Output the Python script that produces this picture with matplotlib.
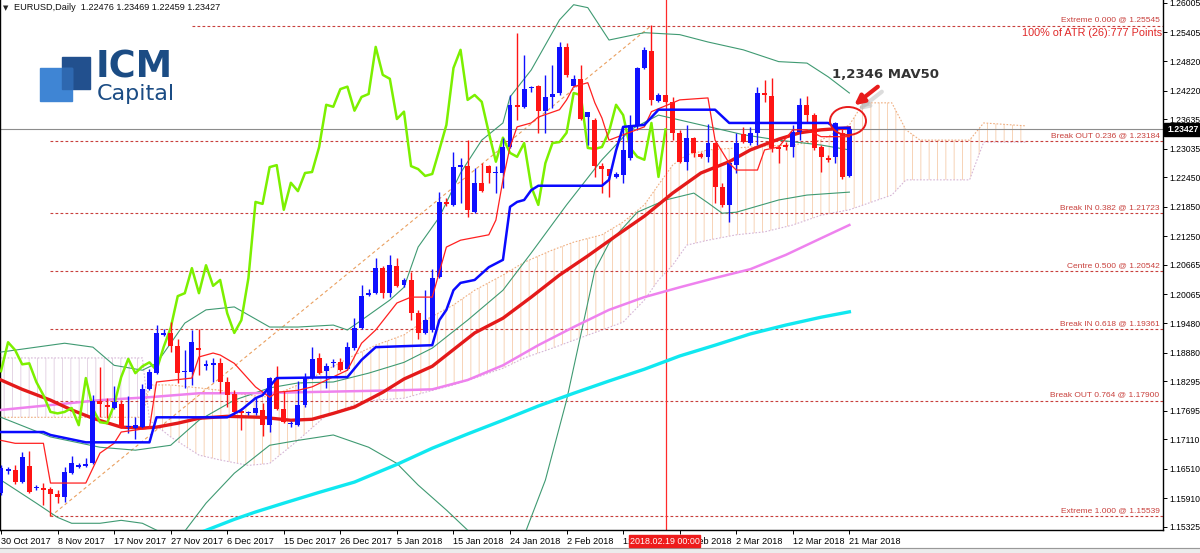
import matplotlib
matplotlib.use("Agg")
import matplotlib.pyplot as plt
from matplotlib.patches import Rectangle, Ellipse, FancyArrowPatch
import numpy as np

# daily EURUSD candles, 30 Oct 2017 .. 21 Mar 2018 (bar 0 .. 120)
opens = [1.1601, 1.1646, 1.1648, 1.1624, 1.1656, 1.1611, 1.1611, 1.1609, 1.1599, 1.1593,
         1.1642, 1.1654, 1.1656, 1.1662, 1.1789, 1.1781, 1.1775, 1.1783, 1.1736, 1.1734,
         1.1736, 1.1813, 1.1846, 1.1924, 1.1928, 1.1901, 1.1848, 1.1848, 1.1897, 1.1860,
         1.1862, 1.1866, 1.1828, 1.1803, 1.1769, 1.1764, 1.1764, 1.1771, 1.1740, 1.1836,
         1.1773, 1.1742, 1.1740, 1.1781, 1.1836, 1.1877, 1.1850, 1.1866, 1.1868, 1.1854,
         1.1897, 1.1938, 1.2005, 1.2009, 1.2060, 1.2009, 1.2064, 1.2026, 1.2036, 1.1968,
         1.1928, 1.1934, 1.2042, 1.2195, 1.2189, 1.2266, 1.2268, 1.2174, 1.2234, 1.2268,
         1.2254, 1.2254, 1.2307, 1.2393, 1.2389, 1.2427, 1.2432, 1.2381, 1.2409, 1.2417,
         1.2511, 1.2432, 1.2446, 1.2368, 1.2362, 1.2268, 1.2262, 1.2246, 1.2250, 1.2285,
         1.2352, 1.2468, 1.2503, 1.2401, 1.2413, 1.2399, 1.2336, 1.2277, 1.2326, 1.2293,
         1.2287, 1.2315, 1.2226, 1.2189, 1.2270, 1.2334, 1.2315, 1.2336, 1.2417, 1.2411,
         1.2307, 1.2311, 1.2307, 1.2338, 1.2393, 1.2372, 1.2307, 1.2285, 1.2287, 1.2336,
         1.22476]
highs = [1.1658, 1.1654, 1.1658, 1.1685, 1.1687, 1.1618, 1.1622, 1.1614, 1.1607, 1.1654,
         1.1677, 1.1662, 1.1673, 1.1801, 1.1858, 1.1795, 1.1820, 1.1791, 1.1799, 1.1756,
         1.1824, 1.1854, 1.1944, 1.1936, 1.1950, 1.1916, 1.1893, 1.1934, 1.1936, 1.1873,
         1.1877, 1.1877, 1.1838, 1.1811, 1.1775, 1.1769, 1.1795, 1.1785, 1.1838, 1.1860,
         1.1809, 1.1748, 1.1830, 1.1846, 1.1899, 1.1887, 1.1866, 1.1875, 1.1877, 1.1909,
         1.1958, 1.2026, 1.2017, 1.2081, 1.2064, 1.2087, 1.2081, 1.2040, 1.2052, 1.1975,
         1.2015, 1.2058, 1.2215, 1.2203, 1.2297, 1.2285, 1.2321, 1.2264, 1.2274, 1.2270,
         1.2268, 1.2326, 1.2413, 1.2540, 1.2495, 1.2432, 1.2434, 1.2454, 1.2474, 1.2521,
         1.2519, 1.2454, 1.2474, 1.2379, 1.2366, 1.2274, 1.2262, 1.2256, 1.2348, 1.2372,
         1.2470, 1.2511, 1.2555, 1.2417, 1.2413, 1.2409, 1.2342, 1.2352, 1.2328, 1.2297,
         1.2354, 1.2317, 1.2234, 1.2277, 1.2336, 1.2348, 1.2348, 1.2430, 1.2444, 1.2448,
         1.2311, 1.2317, 1.2352, 1.2407, 1.2411, 1.2376, 1.2311, 1.2291, 1.2358, 1.2348,
         1.23469]
lows = [1.1597, 1.1640, 1.1620, 1.1622, 1.1601, 1.1607, 1.1577, 1.1554, 1.1581, 1.1583,
        1.1640, 1.1652, 1.1654, 1.1660, 1.1756, 1.1754, 1.1773, 1.1734, 1.1724, 1.1711,
        1.1734, 1.1811, 1.1844, 1.1922, 1.1889, 1.1826, 1.1816, 1.1822, 1.1842, 1.1852,
        1.1828, 1.1805, 1.1777, 1.1760, 1.1730, 1.1760, 1.1760, 1.1718, 1.1726, 1.1771,
        1.1744, 1.1736, 1.1738, 1.1777, 1.1834, 1.1844, 1.1816, 1.1858, 1.1850, 1.1852,
        1.1893, 1.1936, 1.2003, 1.2007, 1.1999, 1.2001, 1.2021, 1.2021, 1.1954, 1.1916,
        1.1926, 1.1930, 1.2040, 1.2187, 1.2187, 1.2193, 1.2164, 1.2172, 1.2215, 1.2234,
        1.2213, 1.2223, 1.2305, 1.2362, 1.2387, 1.2419, 1.2336, 1.2336, 1.2387, 1.2413,
        1.2450, 1.2430, 1.2362, 1.2311, 1.2246, 1.2213, 1.2205, 1.2244, 1.2234, 1.2281,
        1.2342, 1.2466, 1.2393, 1.2399, 1.2397, 1.2321, 1.2274, 1.2260, 1.2287, 1.2285,
        1.2277, 1.2193, 1.2185, 1.2154, 1.2254, 1.2315, 1.2311, 1.2311, 1.2399, 1.2297,
        1.2274, 1.2301, 1.2287, 1.2321, 1.2356, 1.2301, 1.2256, 1.2277, 1.2274, 1.2242,
        1.22459]
closes = [1.1652, 1.1650, 1.1624, 1.1675, 1.1603, 1.1614, 1.1607, 1.1599, 1.1593, 1.1644,
          1.1662, 1.1658, 1.1660, 1.1789, 1.1783, 1.1777, 1.1787, 1.1736, 1.1738, 1.1740,
          1.1813, 1.1848, 1.1928, 1.1928, 1.1901, 1.1846, 1.1850, 1.1909, 1.1893, 1.1864,
          1.1866, 1.1828, 1.1801, 1.1767, 1.1764, 1.1767, 1.1775, 1.1740, 1.1836, 1.1773,
          1.1746, 1.1744, 1.1781, 1.1838, 1.1875, 1.1846, 1.1860, 1.1868, 1.1852, 1.1899,
          1.1938, 1.2003, 1.2009, 1.2060, 1.2009, 1.2066, 1.2024, 1.2036, 1.1968, 1.1928,
          1.1954, 1.2040, 1.2195, 1.2191, 1.2266, 1.2270, 1.2179, 1.2234, 1.2217, 1.2254,
          1.2256, 1.2307, 1.2393, 1.2389, 1.2425, 1.2430, 1.2381, 1.2409, 1.2415, 1.2511,
          1.2454, 1.2446, 1.2364, 1.2379, 1.2268, 1.2262, 1.2248, 1.2252, 1.2301, 1.2352,
          1.2468, 1.2505, 1.2403, 1.2413, 1.2399, 1.2336, 1.2277, 1.2326, 1.2295, 1.2287,
          1.2315, 1.2226, 1.2189, 1.2274, 1.2315, 1.2317, 1.2336, 1.2417, 1.2413, 1.2305,
          1.2303, 1.2307, 1.2338, 1.2393, 1.2372, 1.2305, 1.2287, 1.2281, 1.2356, 1.2246,
          1.23427]

date_labels = ['30 Oct 2017', '8 Nov 2017', '17 Nov 2017', '27 Nov 2017', '6 Dec 2017',
               '15 Dec 2017', '26 Dec 2017', '5 Jan 2018', '15 Jan 2018', '24 Jan 2018',
               '2 Feb 2018', '12 Feb 2018', '21 Feb 2018', '2 Mar 2018', '12 Mar 2018',
               '21 Mar 2018']
date_bars = [0, 8, 16, 24, 32, 40, 48, 56, 64, 72, 80, 88, 96, 104, 112, 120]

price_ticks = [1.26005, 1.25405, 1.24820, 1.24220, 1.23635, 1.23035, 1.22450, 1.21850,
               1.21250, 1.20665, 1.20065, 1.19480, 1.18880, 1.18295, 1.17695, 1.17110,
               1.16510, 1.15910, 1.15325]

# moving averages (read at sample bars)
ma50_bars = [0, 3, 7, 10, 13, 17, 20, 22, 25, 28, 32, 37, 41, 44, 47, 50, 54, 57, 61, 67,
             71, 75, 79, 83, 87, 91, 95, 99, 103, 106, 110, 113, 116, 120]
ma50 = [1.1832, 1.1813, 1.1791, 1.1771, 1.1754, 1.1736, 1.1734, 1.1736, 1.1744, 1.1754,
        1.1758, 1.1756, 1.1750, 1.1752, 1.1764, 1.1777, 1.1807, 1.1834, 1.1860, 1.1928,
        1.1958, 1.2001, 1.2046, 1.2085, 1.2126, 1.2166, 1.2213, 1.2254, 1.2277, 1.2301,
        1.2323, 1.2336, 1.2342, 1.2346]
ma100_bars = [0, 7, 14, 21, 28, 35, 42, 49, 56, 61, 66, 71, 76, 81, 86, 91, 96, 101, 106,
              111, 116, 120]
ma100 = [1.1771, 1.1781, 1.1791, 1.1797, 1.1805, 1.1805, 1.1807, 1.1809, 1.1811, 1.1813,
         1.1832, 1.1862, 1.1903, 1.1940, 1.1975, 1.2001, 1.2021, 1.2040, 1.2058, 1.2087,
         1.2121, 1.2148]
ma200_bars = [28, 33, 36, 40, 45, 50, 56, 61, 66, 71, 76, 81, 86, 91, 96, 101, 106, 111,
              116, 120]
ma200 = [1.1520, 1.1548, 1.1563, 1.1581, 1.1603, 1.1624, 1.1660, 1.1693, 1.1722, 1.1750,
         1.1779, 1.1805, 1.1830, 1.1854, 1.1881, 1.1903, 1.1926, 1.1944, 1.1960, 1.1971]

# ichimoku kijun / tenkan
kijun_bars = [0, 6, 7, 12, 21, 22, 32, 34, 36, 37, 39, 49, 51, 53, 61, 62, 63, 64, 65, 67,
              69, 71, 72, 73, 74, 75, 76, 85, 86, 87, 88, 91, 93, 101, 103, 117, 118, 120]
kijun = [1.1726, 1.1726, 1.1720, 1.1705, 1.1705, 1.1756, 1.1756, 1.1771, 1.1795, 1.1801,
         1.1836, 1.1838, 1.1873, 1.1899, 1.1903, 1.1954, 1.1975, 1.2015, 1.2030, 1.2036,
         1.2062, 1.2077, 1.2185, 1.2195, 1.2199, 1.2219, 1.2228, 1.2228, 1.2240, 1.2300,
         1.2348, 1.2352, 1.2383, 1.2383, 1.2356, 1.2356, 1.2346, 1.2346]
tenkan_bars = [0, 2, 6, 7, 12, 14, 16, 17, 21, 22, 27, 28, 30, 31, 33, 36, 38, 39, 42, 44,
               49, 51, 53, 56, 58, 61, 63, 65, 69, 70, 71, 72, 73, 75, 76, 79, 80, 81, 83, 84,
               85, 86, 91, 92, 96, 100, 101, 103, 104, 107, 108, 110, 112, 114, 116, 120]
tenkan = [1.1709, 1.1703, 1.1703, 1.1622, 1.1622, 1.1683, 1.1703, 1.1726, 1.1734, 1.1828,
          1.1836, 1.1879, 1.1887, 1.1883, 1.1866, 1.1818, 1.1797, 1.1807, 1.1811, 1.1818,
          1.1852, 1.1907, 1.1934, 1.1989, 1.2001, 1.2001, 1.2103, 1.2117, 1.2128, 1.2158,
          1.2240, 1.2307, 1.2348, 1.2356, 1.2368, 1.2383, 1.2403, 1.2430, 1.2438, 1.2397,
          1.2366, 1.2321, 1.2348, 1.2379, 1.2403, 1.2407, 1.2321, 1.2274, 1.2260, 1.2260,
          1.2301, 1.2307, 1.2342, 1.2342, 1.2328, 1.2328]

# cloud (senkou spans, already shifted 26 bars forward)
cloud_bars = [0, 7, 14, 20, 21, 24, 28, 31, 35, 38, 42, 46, 50, 53, 57, 60, 64, 67, 71, 74,
              78, 81, 85, 88, 91, 93, 95, 97, 100, 104, 108, 112, 116, 120, 122, 126, 128,
              130, 137, 139, 145]
span_a = [1.1756, 1.1756, 1.1756, 1.1756, 1.1822, 1.1822, 1.1816, 1.1811, 1.1801, 1.1797,
          1.1822, 1.1852, 1.1883, 1.1903, 1.1924, 1.1954, 1.1985, 1.2015, 1.2046, 1.2072,
          1.2097, 1.2113, 1.2128, 1.2154, 1.2189, 1.2230, 1.2270, 1.2291, 1.2301, 1.2305,
          1.2309, 1.2311, 1.2321, 1.2352, 1.2397, 1.2397, 1.2342, 1.2321, 1.2321, 1.2356,
          1.2350]
span_b = [1.1877, 1.1877, 1.1877, 1.1877, 1.1750, 1.1716, 1.1679, 1.1669, 1.1658, 1.1662,
          1.1709, 1.1760, 1.1781, 1.1791, 1.1795, 1.1807, 1.1822, 1.1836, 1.1856, 1.1877,
          1.1897, 1.1913, 1.1934, 1.1950, 1.1995, 1.2036, 1.2066, 1.2107, 1.2117, 1.2128,
          1.2134, 1.2148, 1.2168, 1.2179, 1.2189, 1.2209, 1.2240, 1.2240, 1.2240, 1.2317,
          1.2317]

# bollinger bands
bb_up_bars = [0, 9, 13, 16, 20, 22, 24, 26, 29, 33, 38, 42, 47, 49, 51, 55, 57, 59, 62, 65,
              68, 71, 72, 75, 79, 81, 83, 86, 91, 96, 100, 105, 110, 114, 117, 120]
bb_up = [1.1889, 1.1907, 1.1899, 1.1862, 1.1852, 1.1866, 1.1907, 1.1948, 1.1975, 1.1981,
         1.1940, 1.1940, 1.1944, 1.1934, 1.1954, 1.1995, 1.2021, 1.2103, 1.2164, 1.2254,
         1.2321, 1.2356, 1.2409, 1.2464, 1.2566, 1.2597, 1.2591, 1.2525, 1.2540, 1.2536,
         1.2521, 1.2505, 1.2481, 1.2478, 1.2450, 1.2417]
bb_mid_bars = [0, 7, 14, 19, 24, 28, 33, 38, 42, 47, 52, 57, 61, 66, 71, 75, 80, 85, 89, 93,
               99, 105, 110, 116, 120]
bb_mid = [1.1756, 1.1716, 1.1695, 1.1689, 1.1699, 1.1750, 1.1791, 1.1816, 1.1826, 1.1828,
          1.1846, 1.1868, 1.1897, 1.1954, 1.2015, 1.2091, 1.2189, 1.2281, 1.2342, 1.2372,
          1.2352, 1.2332, 1.2321, 1.2311, 1.2301]
bb_lo_bars = [0, 5, 8, 10, 14, 17, 20, 22, 25, 29, 33, 38, 42, 47, 52, 56, 59, 63, 66, 70,
              74, 77, 80, 84, 86, 90, 94, 98, 100, 102, 104, 110, 114, 120]
bb_lo = [1.1628, 1.1581, 1.1552, 1.1540, 1.1540, 1.1546, 1.1540, 1.1526, 1.1505, 1.1581,
         1.1642, 1.1699, 1.1709, 1.1720, 1.1695, 1.1662, 1.1618, 1.1567, 1.1526, 1.1495,
         1.1515, 1.1628, 1.1791, 1.2056, 1.2111, 1.2174, 1.2199, 1.2213, 1.2193, 1.2172,
         1.2174, 1.2199, 1.2209, 1.2215]

# fibonacci levels
fib_levels = [1.25545, 1.23184, 1.21723, 1.20542, 1.19361, 1.17900, 1.15539]
fib_names = ['Extreme 0.000 @ 1.25545', 'Break OUT 0.236 @ 1.23184', 'Break IN 0.382 @ 1.21723',
             'Centre 0.500 @ 1.20542', 'Break IN 0.618 @ 1.19361', 'Break OUT 0.764 @ 1.17900',
             'Extreme 1.000 @ 1.15539']
fib_start = [27, 7, 7, 7, 7, 7, 7]
fib_anchor_bars = [7, 92]
fib_anchor_prices = [1.15539, 1.25545]

last_price = 1.23427
marked_bar = 94

W, H = 1200, 553
SMALL = 'Liberation Sans'
plt.rcParams['hatch.linewidth'] = 0.7
fig = plt.figure(figsize=(W / 100, H / 100), dpi=100, facecolor='white')
ax = fig.add_axes([0, 23 / H, 1163 / W, 530 / H])
ax.set_xlim(-0.14, 164.36)
ax.set_ylim(1.15263, 1.26066)

# cloud
cb = np.array(cloud_bars)
sa = np.array(span_a)
sb = np.array(span_b)
ax.fill_between(cb, sa, sb, where=sa >= sb, interpolate=True, facecolor='none',
                edgecolor='#f7d3b6', hatch='||', lw=0, zorder=1)
ax.fill_between(cb, sa, sb, where=sa < sb, interpolate=True, facecolor='none',
                edgecolor='#e4d4e4', hatch='||', lw=0, zorder=1)
ax.plot(cb, sa, color='#efae80', lw=0.8, ls=(0, (1.5, 1.5)), zorder=1)
ax.plot(cb, sb, color='#d6b6d6', lw=0.8, ls=(0, (1.5, 1.5)), zorder=1)

# fib lines
fib_col = '#c8403c'
for lev, name, st in zip(fib_levels, fib_names, fib_start):
    ax.hlines(lev, st, 164.36, colors=fib_col, lw=0.8, linestyles=(0, (2.5, 2)), zorder=2)
    ax.text(0.997, lev + 0.0004, name, transform=ax.get_yaxis_transform(), ha='right',
            va='bottom', fontsize=6, family=SMALL, color=fib_col, zorder=3)
ax.plot(fib_anchor_bars, fib_anchor_prices, color='#eaa060', lw=0.8, ls=(0, (3, 2.5)), zorder=2)

ax.axhline(last_price, color='#8c8c8c', lw=0.8, zorder=2)
ax.axvline(marked_bar, color='#ff2a2a', lw=0.9, zorder=2)

# bollinger
bb_col = '#3f9a72'
ax.plot(bb_up_bars, bb_up, color=bb_col, lw=0.8, zorder=3)
ax.plot(bb_mid_bars, bb_mid, color=bb_col, lw=0.8, zorder=3)
ax.plot(bb_lo_bars, bb_lo, color=bb_col, lw=0.8, zorder=3)

# moving averages
ax.plot(ma200_bars, ma200, color='#10e8f0', lw=2.4, zorder=4)
ax.plot(ma100_bars, ma100, color='#ee82ee', lw=1.8, zorder=4)
ax.plot(ma50_bars, ma50, color='#e41a1a', lw=2.4, zorder=4)

# chikou span
c_arr = np.array(closes)
ax.plot(np.arange(len(closes) - 26), c_arr[26:], color='#7cf000', lw=1.8, zorder=4)

# candles
o = np.array(opens)
h = np.array(highs)
l = np.array(lows)
idx = np.arange(len(o))
cols = np.where(c_arr >= o, '#1010ff', '#ff1414')
ax.vlines(idx, l, h, colors=cols, lw=1, zorder=5)
ax.bar(idx, np.maximum(np.abs(c_arr - o), 0.00022), bottom=np.minimum(o, c_arr), width=0.7,
       color=cols, lw=0, zorder=6)

ax.plot(tenkan_bars, tenkan, color='#ff2020', lw=0.9, zorder=7)
ax.plot(kijun_bars, kijun, color='#0a0aff', lw=1.8, zorder=7)

# axes
ax.yaxis.tick_right()
ax.set_yticks(price_ticks)
ax.set_yticklabels(['%.5f' % t for t in price_ticks], family=SMALL, fontsize=6.2)
ax.set_xticks(date_bars)
ax.set_xticklabels(date_labels, family=SMALL, fontsize=6.6, ha='left')
ax.tick_params(axis='y', length=3, width=0.7, pad=1.5)
ax.tick_params(axis='x', length=3, width=0.7, pad=2)
ax.spines['top'].set_visible(False)
for s in ['left', 'right', 'bottom']:
    ax.spines[s].set_linewidth(1.0)

# overlay in pixel coordinates
ov = fig.add_axes([0, 0, 1, 1])
ov.set_xlim(0, W)
ov.set_ylim(H, 0)
ov.axis('off')
ov.patch.set_alpha(0)

ov.text(3, 8, '\u25bc', fontsize=5, va='center', color='#222222')
ov.text(14, 8, 'EURUSD,Daily  1.22476 1.23469 1.22459 1.23427', fontsize=6.6, family=SMALL,
        va='center', color='#111111')

# logo
ov.add_patch(Rectangle((62, 57), 28, 32, color='#22508e', zorder=5))
ov.add_patch(Rectangle((40, 68), 32, 33, color='#3f85d4', zorder=6))
ov.add_patch(Rectangle((62, 68), 10, 21, color='#2e68b0', zorder=7))
ov.text(96, 67, 'ICM', fontsize=26.5, weight='bold', color='#1b4c84', va='center', zorder=8)
ov.text(97, 94, 'Capital', fontsize=16, color='#1b4c84', va='center', zorder=8)

ov.text(1162, 33, '100% of ATR (26):777 Points', fontsize=7.8, family=SMALL, color='#e02828',
        ha='right', va='center')

# MAV50 note
ov.text(832, 74, '1,2346 MAV50', fontsize=9.5, weight='bold', color='#333333', va='center')
ov.add_patch(FancyArrowPatch((884, 90), (856, 112), arrowstyle='-|>', mutation_scale=14,
                             lw=3, color='#bbbbbb', alpha=0.5))
ov.add_patch(FancyArrowPatch((880, 85), (852, 107), arrowstyle='-|>', mutation_scale=14,
                             lw=3, color='#e81c1c'))
ov.add_patch(Ellipse((848, 121), 36, 28, fill=False, edgecolor='#e81c1c', lw=1.4))

# price label and date label
ov.add_patch(Rectangle((1164, 123), 36, 13, color='black'))
ov.text(1167, 129.5, '1.23427', color='white', fontsize=6.2, family=SMALL, va='center',
        weight='bold')
ov.add_patch(Rectangle((629, 535), 71, 12, color='#ee1c1c', zorder=5))
ov.text(664.5, 541, '2018.02.19 00:00', color='white', fontsize=6.4, family=SMALL,
        ha='center', va='center', zorder=6)

ov.add_patch(Rectangle((0, 548), W, 5, color='#ececec'))
ov.plot([0, W], [548, 548], color='#999999', lw=0.8)

fig.savefig('out.png', dpi=100, facecolor='white')
